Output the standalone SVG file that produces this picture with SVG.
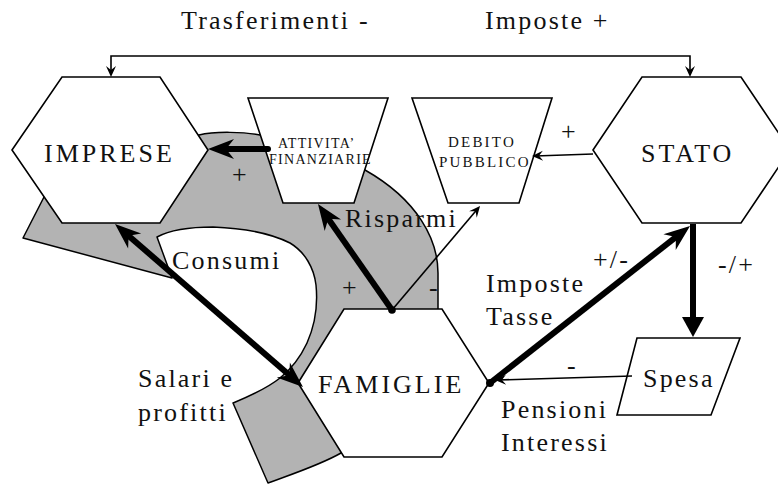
<svg xmlns="http://www.w3.org/2000/svg" width="778" height="484" viewBox="0 0 778 484">
  <style>
    .node { fill: #ffffff; stroke: #000000; stroke-width: 1.6; stroke-linejoin: miter; }
    .band { fill: #b3b3b3; stroke: #000000; stroke-width: 1.5; stroke-linejoin: round; }
    .thick { fill: none; stroke: #000000; stroke-width: 6; }
    .thin { fill: none; stroke: #000000; stroke-width: 1.6; }
    .dot { fill: #000000; }
    text { font-family: "Liberation Serif", "Times New Roman", serif; fill: #111111; }
    .big { font-size: 26px; letter-spacing: 3px; }
    .lbl { font-size: 26px; letter-spacing: 2.2px; }
    .small { font-size: 14px; letter-spacing: 1.3px; }
    .small2 { font-size: 15px; letter-spacing: 2.2px; }
  </style>
  <defs>
    <!-- barbed head for heavy flows; origin sits 14px behind the tip -->
    <marker id="headBig" markerUnits="userSpaceOnUse" viewBox="-14 -12 30 24" markerWidth="30" markerHeight="24" refX="0" refY="0" orient="auto-start-reverse" overflow="visible">
      <path d="M14,0 L-12,-10 L-4,0 L-12,10 Z" fill="#000"/>
    </marker>
    <!-- plain triangular head -->
    <marker id="headTri" markerUnits="userSpaceOnUse" viewBox="-8 -12 24 24" markerWidth="24" markerHeight="24" refX="0" refY="0" orient="auto" overflow="visible">
      <path d="M14,0 L-6,-11 L-6,11 Z" fill="#000"/>
    </marker>
    <!-- small barbed head for thin lines; origin 3px behind the tip -->
    <marker id="headSmall" markerUnits="userSpaceOnUse" viewBox="-8 -6 12 12" markerWidth="12" markerHeight="12" refX="0" refY="0" orient="auto-start-reverse" overflow="visible">
      <path d="M3,0 L-8,-5 L-4,0 L-8,5 Z" fill="#000"/>
    </marker>
  </defs>

  <!-- grey circuit band running behind the sectors -->
  <path id="circuit" class="band" d="M23,238 L172,278 L157,237 C170,230 190,227 213,227 C240,228 270,233 290,243 C305,252 314,268 316,285 C318,305 315,325 307,343 C300,358 290,370 280,378 C265,390 245,398 233,403 L268,483 C295,473 320,465 341,453 L438,309 L438,273 C438,240 418,200 365,170 L260,135 C245,132 215,131 199,135 L44,197 Z"/>

  <g id="imprese">
    <polygon class="node" points="12,150 62,77 160,77 208,150 160,223 62,223"/>
    <text class="big" x="44" y="162">IMPRESE</text>
  </g>
  <g id="stato">
    <polygon class="node" points="593,150 642,77 741,77 790,150 741,223 642,223"/>
    <text class="big" x="641" y="162">STATO</text>
  </g>
  <g id="famiglie">
    <polygon class="node" points="298,383 344,309 442,309 489,383 442,457 344,457"/>
    <text class="big" x="318" y="393">FAMIGLIE</text>
  </g>
  <g id="attivita">
    <polygon class="node" points="248,98 388,98 354,203 283,203"/>
    <text class="small" x="278" y="148">ATTIVITA’</text>
    <text class="small" x="269" y="164">FINANZIARIE</text>
  </g>
  <g id="debito">
    <polygon class="node" points="412,98 552,98 519,203 448,203"/>
    <text class="small2" x="448" y="147">DEBITO</text>
    <text class="small2" x="439" y="167">PUBBLICO</text>
  </g>
  <g id="spesa">
    <polygon class="node" points="637,338 740,338 711,415 617,415"/>
    <text class="lbl" x="643" y="387">Spesa</text>
  </g>

  <g id="connectors">
    <!-- transfers and taxes between state and firms -->
    <path class="thin" d="M111,74 V56 H690 V74" marker-start="url(#headSmall)" marker-end="url(#headSmall)"/>
    <!-- financial assets to firms -->
    <line class="thick" x1="268" y1="149" x2="222" y2="149" stroke-linecap="round" marker-end="url(#headBig)"/>
    <!-- consumption / wages -->
    <line class="thick" x1="125.6" y1="233.2" x2="292.4" y2="377.8" marker-start="url(#headBig)" marker-end="url(#headBig)"/>
    <!-- savings -->
    <line class="thick" x1="392" y1="310" x2="326" y2="215.5" marker-end="url(#headBig)"/>
    <line class="thin" x1="392" y1="310" x2="478.1" y2="208.3" marker-end="url(#headSmall)"/>
    <circle class="dot" cx="392" cy="310" r="3.8"/>
    <!-- taxes -->
    <line class="thick" x1="490" y1="383" x2="679" y2="234.6" stroke-width="7" marker-end="url(#headBig)"/>
    <circle class="dot" cx="490" cy="383" r="4"/>
    <!-- state to public debt -->
    <line class="thin" x1="593" y1="154" x2="535" y2="156" marker-end="url(#headSmall)"/>
    <!-- state to spending -->
    <line class="thick" x1="693" y1="224" x2="693" y2="323" stroke-width="4.5" marker-end="url(#headTri)"/>
    <!-- spending to households -->
    <line class="thin" x1="632" y1="376" x2="498" y2="380" marker-end="url(#headSmall)"/>
  </g>

  <g id="labels">
    <text class="lbl" x="181" y="29">Trasferimenti -</text>
    <text class="lbl" x="485" y="29">Imposte +</text>
    <text class="lbl" x="232" y="183">+</text>
    <text class="lbl" x="172" y="269">Consumi</text>
    <text class="lbl" x="345" y="227">Risparmi</text>
    <text class="lbl" x="342" y="296">+</text>
    <text class="lbl" x="429" y="296">-</text>
    <text class="lbl" x="561" y="140">+</text>
    <text class="lbl" x="138" y="387">Salari e</text>
    <text class="lbl" x="138" y="421">profitti</text>
    <text class="lbl" x="486" y="292">Imposte</text>
    <text class="lbl" x="486" y="325">Tasse</text>
    <text class="lbl" x="593" y="268">+/-</text>
    <text class="lbl" x="718" y="273">-/+</text>
    <text class="lbl" x="567" y="374">-</text>
    <text class="lbl" x="501" y="418">Pensioni</text>
    <text class="lbl" x="501" y="451">Interessi</text>
  </g>
</svg>
